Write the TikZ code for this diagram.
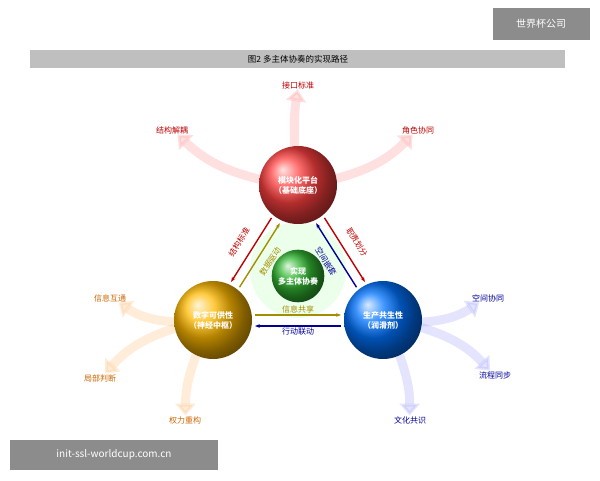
\documentclass[tikz,border=0pt]{standalone}
\usepackage{fontspec}
\setmainfont{Noto Sans CJK SC}
\usetikzlibrary{arrows.meta}
\tikzset{
  ball/.style={circle,minimum size=#1,text=white,font=\bfseries\fontsize{8}{10}\selectfont,align=center},
  fat/.style={line width=9pt,-{Triangle[length=12pt,width=20pt]},opacity=0.3},
  lbl/.style={font=\fontsize{8}{10}\selectfont,text=#1,inner sep=0.5pt},
  link/.style={line width=1.4pt,-{Stealth[length=5pt]},draw=#1}
}
\begin{document}
\begin{tikzpicture}[x=1pt,y=-1pt]
    \useasboundingbox (0,0) rectangle (600,480);
    % Header and footer boxes
    \node[fill=black!45,text=white,minimum width=97pt,minimum height=32pt,font=\fontsize{10}{12}\selectfont] (brand) at (541,24) {世界杯公司};
    \fill[black!25] (30,50) rectangle (565,68);
    \node[font=\fontsize{8.5}{10}\selectfont] (title) at (298,59) {图2 多主体协奏的实现路径};
    \node[fill=black!45,text=white,minimum width=208pt,minimum height=30pt,font=\fontsize{10}{12}\selectfont] (site) at (114,455) {init-ssl-worldcup.com.cn};

    % Faint ring behind the centre
    \fill[green!8] (298,270) circle (48pt);

    % Four balls
    \node[ball=78pt,shading=ball,ball color=red!75!white] (plat) at (298,185) {模块化平台\\（基础底座）};
    \node[ball=78pt,shading=ball,ball color=orange!55!yellow] (digi) at (213,320) {数字可供性\\（神经中枢）};
    \node[ball=78pt,shading=ball,ball color=blue!55!cyan] (prod) at (383,320) {生产共生性\\（润滑剂）};
    \node[ball=52pt,shading=ball,ball color=green!65!black!80!white] (goal) at (298,276) {实现\\多主体协奏};

    % Outer labels
    \node[lbl=red!75!black] (l1) at (298,85) {接口标准};
    \node[lbl=red!75!black] (l2) at (172,130) {结构解耦};
    \node[lbl=red!75!black] (l3) at (418,130) {角色协同};
    \node[lbl=orange!80!black] (l4) at (110,298) {信息互通};
    \node[lbl=orange!80!black] (l5) at (100,378) {局部判断};
    \node[lbl=orange!80!black] (l6) at (185,420) {权力重构};
    \node[lbl=blue!60!black] (l7) at (488,298) {空间协同};
    \node[lbl=blue!60!black] (l8) at (495,375) {流程同步};
    \node[lbl=blue!60!black] (l9) at (410,420) {文化共识};

    % Fat arrows out of the balls
    \draw[fat,draw=red!40] (plat) to[bend left=5] (l1);
    \draw[fat,draw=red!40] (plat) to[bend left=15] (l2);
    \draw[fat,draw=red!40] (plat) to[bend right=15] (l3);
    \draw[fat,draw=orange!50] (digi) to[bend left=15] (l4);
    \draw[fat,draw=orange!50] (digi) to[bend right=15] (l5);
    \draw[fat,draw=orange!50] (digi) to[bend right=10] (l6);
    \draw[fat,draw=blue!35] (prod) to[bend right=15] (l7);
    \draw[fat,draw=blue!35] (prod) to[bend left=15] (l8);
    \draw[fat,draw=blue!35] (prod) to[bend left=10] (l9);

    % Link ends
    \coordinate (lo1) at (271.5,217.9); \coordinate (lo2) at (231.1,281.9);
    \coordinate (li1) at (239.5,287.2); \coordinate (li2) at (279.9,223.2);
    \coordinate (ro1) at (324.5,217.9); \coordinate (ro2) at (364.9,281.9);
    \coordinate (ri1) at (356.5,287.2); \coordinate (ri2) at (316.1,223.2);
    \coordinate (bt1) at (255,315); \coordinate (bt2) at (341,315);
    \coordinate (bb1) at (341,326); \coordinate (bb2) at (255,326);

    % Links between the balls
    \draw[link=red!75!black] (lo1) -- (lo2);
    \draw[link=olive!80!orange] (li1) -- (li2);
    \draw[link=red!75!black] (ro1) -- (ro2);
    \draw[link=blue!60!black] (ri1) -- (ri2);
    \draw[link=olive!80!orange] (bt1) -- node[above=1pt,lbl=olive!80!orange] (t5) {信息共享} (bt2);
    \draw[link=blue!60!black] (bb1) -- node[below=1pt,lbl=blue!60!black] (t6) {行动联动} (bb2);
    \node[lbl=red!75!black,rotate=58] (t1) at (239,242) {结构标准};
    \node[lbl=olive!80!orange,rotate=58] (t2) at (270,261.5) {数据驱动};
    \node[lbl=red!75!black,rotate=-58] (t3) at (357,242) {职责划分};
    \node[lbl=blue!60!black,rotate=-58] (t4) at (326,261.5) {空间嵌套};
\end{tikzpicture}
\end{document}
